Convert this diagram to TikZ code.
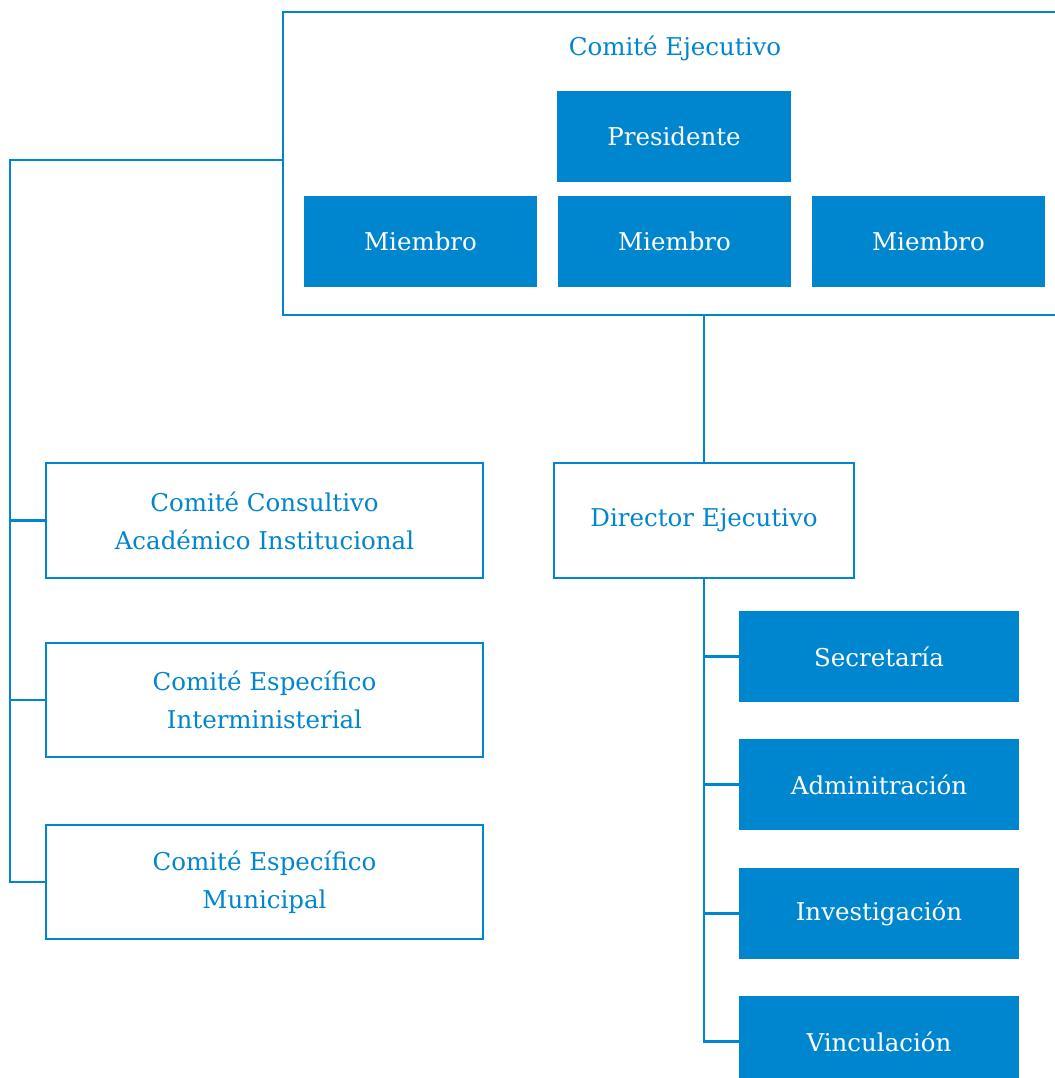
\documentclass[tikz,border=0pt]{standalone}
\usepackage{fontspec}
\setmainfont{DejaVu Serif}
\definecolor{oblue}{RGB}{0,134,207}
\begin{document}
\begin{tikzpicture}[x=1pt,y=-1pt,
  every node/.style={font=\fontsize{24.5}{38}\selectfont, align=center, inner sep=0pt},
  solidbox/.style={rectangle, fill=oblue, text=white, minimum width=233, minimum height=91},
  subbox/.style={rectangle, fill=oblue, text=white, minimum width=280, minimum height=91},
  framebox/.style={rectangle, draw=oblue, line width=2.8pt, text=oblue, fill=white},
  conn/.style={draw=oblue, line width=2.2pt}]
\useasboundingbox (0,0) rectangle (1054,1078);
% Comite ejecutivo frame
\node[framebox, minimum width=777, minimum height=303] (ce) at (671.5,163.5) {};
\node[text=oblue] (cetitle) at (675,48) {Comité Ejecutivo};
\node[solidbox, minimum width=234] (pres) at (674,136.5) {Presidente};
\node[solidbox] (m1) at (420.5,241.5) {Miembro};
\node[solidbox] (m2) at (674.5,241.5) {Miembro};
\node[solidbox] (m3) at (928.5,241.5) {Miembro};
% Director
\node[framebox, minimum width=300, minimum height=115] (dir) at (704,520.5) {Director Ejecutivo};
% Left committees
\node[framebox, minimum width=437, minimum height=115] (cc) at (264.5,520.5) {Comité Consultivo\\Académico Institucional};
\node[framebox, minimum width=437, minimum height=114] (cei) at (264.5,700) {Comité Específico\\Interministerial};
\node[framebox, minimum width=437, minimum height=114] (cem) at (264.5,882) {Comité Específico\\Municipal};
% Right units
\node[subbox] (sec) at (879,656.5) {Secretaría};
\node[subbox] (adm) at (879,784.5) {Adminitración};
\node[subbox] (inv) at (879,913.5) {Investigación};
\node[subbox] (vin) at (879,1041.5) {Vinculación};
% connectors
\coordinate (lt) at (10,160);
\draw[conn] (ce.west |- lt) -- (lt) -- (lt |- cem.west) -- (cem.west);
\draw[conn] (lt |- cc.west) -- (cc.west);
\draw[conn] (lt |- cei.west) -- (cei.west);
\draw[conn] (ce.south -| dir.north) -- (dir.north);
\draw[conn] (dir.south) -- (dir.south |- vin.west) -- (vin.west);
\draw[conn] (dir.south |- sec.west) -- (sec.west);
\draw[conn] (dir.south |- adm.west) -- (adm.west);
\draw[conn] (dir.south |- inv.west) -- (inv.west);
\end{tikzpicture}
\end{document}
